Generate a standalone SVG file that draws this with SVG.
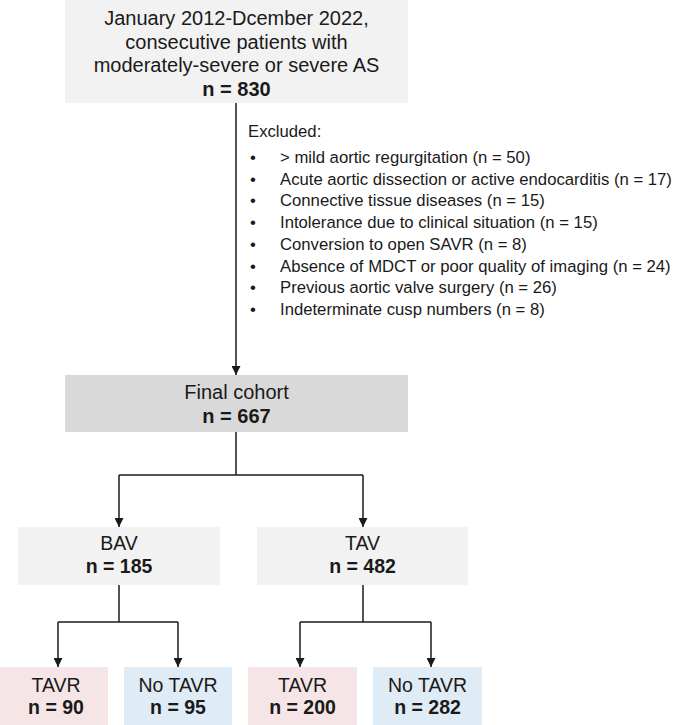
<svg xmlns="http://www.w3.org/2000/svg" width="677" height="725" viewBox="0 0 677 725">
<style>
text{font-family:"Liberation Sans",Arial,sans-serif;fill:#1a1a1a}
.c{text-anchor:middle;font-size:20px}
.m{text-anchor:middle;font-size:19.5px}
.b{font-weight:bold}
.x{font-size:16.7px}
.ln{stroke:#1a1a1a;stroke-width:1.5;fill:none}
</style>
<defs>
<marker id="ah" viewBox="0 0 10 10" refX="10" refY="5" markerWidth="9" markerHeight="9" markerUnits="userSpaceOnUse" orient="auto">
<path d="M0,0 L10,5 L0,10 z" fill="#1a1a1a"/>
</marker>
</defs>
<rect width="677" height="725" fill="#ffffff"/>
<g id="connectors">
<path class="ln" d="M236,103 V375" marker-end="url(#ah)"/>
<path class="ln" d="M236,432 V475"/>
<path class="ln" d="M119,475 H363"/>
<path class="ln" d="M119,475 V527" marker-end="url(#ah)"/>
<path class="ln" d="M363,475 V527" marker-end="url(#ah)"/>
<path class="ln" d="M119,585 V622"/>
<path class="ln" d="M58,622 H178"/>
<path class="ln" d="M58,622 V667" marker-end="url(#ah)"/>
<path class="ln" d="M178,622 V667" marker-end="url(#ah)"/>
<path class="ln" d="M363,585 V622"/>
<path class="ln" d="M300,622 H431"/>
<path class="ln" d="M300,622 V667" marker-end="url(#ah)"/>
<path class="ln" d="M431,622 V667" marker-end="url(#ah)"/>
</g>
<g id="start">
<rect x="65" y="0" width="343" height="103" fill="#f2f2f2"/>
<text class="c" x="236.5" y="25">January 2012-Dcember 2022,</text>
<text class="c" x="236.5" y="48.5">consecutive patients with</text>
<text class="c" x="236.5" y="72">moderately-severe or severe AS</text>
<text class="c b" x="236.5" y="95.5">n = 830</text>
</g>
<g id="excluded">
<text class="x" x="248" y="137">Excluded:</text>
<text class="x" x="250" y="163">•</text><text class="x" x="280" y="163">&gt; mild aortic regurgitation (n = 50)</text>
<text class="x" x="250" y="184.7">•</text><text class="x" x="280" y="184.7">Acute aortic dissection or active endocarditis (n = 17)</text>
<text class="x" x="250" y="206.4">•</text><text class="x" x="280" y="206.4">Connective tissue diseases (n = 15)</text>
<text class="x" x="250" y="228.1">•</text><text class="x" x="280" y="228.1">Intolerance due to clinical situation (n = 15)</text>
<text class="x" x="250" y="249.8">•</text><text class="x" x="280" y="249.8">Conversion to open SAVR (n = 8)</text>
<text class="x" x="250" y="271.5">•</text><text class="x" x="280" y="271.5">Absence of MDCT or poor quality of imaging (n = 24)</text>
<text class="x" x="250" y="293.2">•</text><text class="x" x="280" y="293.2">Previous aortic valve surgery (n = 26)</text>
<text class="x" x="250" y="314.9">•</text><text class="x" x="280" y="314.9">Indeterminate cusp numbers (n = 8)</text>
</g>
<g id="final">
<rect x="65" y="375" width="343" height="57" fill="#d9d9d9"/>
<text class="c" x="236.5" y="398.5">Final cohort</text>
<text class="c b" x="236.5" y="422.5">n = 667</text>
</g>
<g id="bav">
<rect x="18" y="527" width="202" height="58" fill="#f2f2f2"/>
<text class="m" x="119" y="550">BAV</text>
<text class="m b" x="119" y="573">n = 185</text>
</g>
<g id="tav">
<rect x="257" y="527" width="211" height="58" fill="#f2f2f2"/>
<text class="m" x="362.5" y="550">TAV</text>
<text class="m b" x="362.5" y="573">n = 482</text>
</g>
<g id="bav-tavr">
<rect x="0" y="667" width="108" height="58" fill="#f6e5e7"/>
<text class="m" x="56" y="692">TAVR</text>
<text class="m b" x="56" y="714">n = 90</text>
</g>
<g id="bav-notavr">
<rect x="124" y="667" width="108" height="58" fill="#dfebf5"/>
<text class="m" x="178" y="692">No TAVR</text>
<text class="m b" x="178" y="714">n = 95</text>
</g>
<g id="tav-tavr">
<rect x="248" y="667" width="109" height="58" fill="#f6e5e7"/>
<text class="m" x="302.5" y="692">TAVR</text>
<text class="m b" x="302.5" y="714">n = 200</text>
</g>
<g id="tav-notavr">
<rect x="373" y="667" width="109" height="58" fill="#dfebf5"/>
<text class="m" x="427.5" y="692">No TAVR</text>
<text class="m b" x="427.5" y="714">n = 282</text>
</g>
</svg>
